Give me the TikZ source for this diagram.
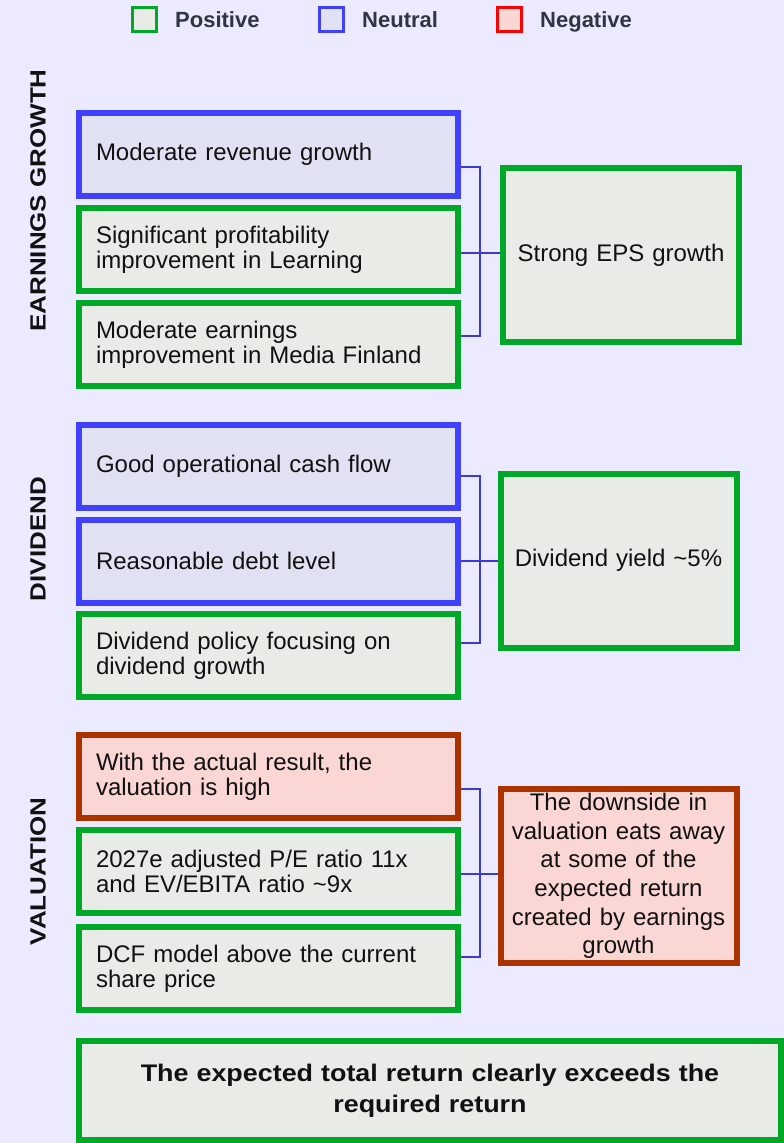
\documentclass[tikz,border=0pt]{standalone}
\usepackage{fontspec}
\setmainfont{Liberation Sans}
\newfontfamily\widebold[FakeStretch=1.18]{Liberation Sans Bold}
\newfontfamily\botbold[FakeStretch=1.12]{Liberation Sans Bold}
\definecolor{bgc}{RGB}{236,234,254}
\definecolor{posline}{RGB}{0,168,40}
\definecolor{posfill}{RGB}{233,236,230}
\definecolor{neuline}{RGB}{64,64,255}
\definecolor{neufill}{RGB}{224,226,244}
\definecolor{negline}{RGB}{170,51,0}
\definecolor{negfill}{RGB}{250,214,212}
\definecolor{legred}{RGB}{255,0,0}
\definecolor{conncol}{RGB}{60,60,210}
\definecolor{legtext}{RGB}{47,54,64}
\definecolor{txt}{RGB}{17,17,17}
\tikzset{
  box/.style={draw, line width=6pt, text=txt, font=\fontsize{24}{25}\selectfont},
  lbox/.style={box, minimum width=379pt, minimum height=83pt, text width=345pt, inner xsep=17pt, align=left},
  rbox/.style={box, minimum width=236pt, minimum height=174pt, text width=222pt, inner xsep=7pt, align=center},
  posbox/.style={draw=posline, fill=posfill},
  neubox/.style={draw=neuline, fill=neufill},
  negbox/.style={draw=negline, fill=negfill},
  legsq/.style={draw, line width=3pt, minimum size=24pt, inner sep=0pt},
  legtx/.style={anchor=base west, text=legtext, font=\fontsize{22}{24}\bfseries\selectfont, inner sep=0pt},
  side/.style={rotate=90, text=txt, font=\fontsize{22}{24}\widebold\selectfont, inner sep=0pt},
  conn/.style={draw=conncol, line width=2pt}
}
\begin{document}
\begin{tikzpicture}[x=1pt, y=-1pt]
\useasboundingbox (0,0) rectangle (784,1143);
\fill[bgc] (0,0) rectangle (784,1143);

% legend
\node[legsq, draw=posline, fill=posfill] (lp) at (144.5,19.5) {};
\node[legtx] (lpt) at (175,27.5) {Positive};
\node[legsq, draw=neuline, fill=neufill] (ln) at (331.5,19.5) {};
\node[legtx] (lnt) at (362,27.5) {Neutral};
\node[legsq, draw=legred, fill=negfill] (lg) at (509.5,19.5) {};
\node[legtx] (lgt) at (540,27.5) {Negative};

% side labels
\node[side] (s1) at (38,200.5) {EARNINGS GROWTH};
\node[side] (s2) at (38,539) {DIVIDEND};
\node[side] (s3) at (38,871.5) {VALUATION};

% group 1
\node[lbox, neubox] (b11) at (268.5,154.5) {Moderate revenue growth};
\node[lbox, posbox] (b12) at (268.5,249.5) {Significant profitability\\improvement in Learning};
\node[lbox, posbox] (b13) at (268.5,344.5) {Moderate earnings\\improvement in Media Finland};
\node[rbox, posbox] (r1) at (621,255) {Strong EPS growth};
\coordinate (j1) at (480,253);
\draw[conn] (b11.east |- 0,167) -| (j1) |- (b13.east |- 0,336);
\draw[conn] (b12.east |- j1) -- (r1.west |- j1);

% group 2
\node[lbox, neubox] (b21) at (268.5,466.5) {Good operational cash flow};
\node[lbox, neubox] (b22) at (268.5,561) {Reasonable debt level};
\node[lbox, posbox] (b23) at (268.5,655.5) {Dividend policy focusing on\\dividend growth};
\node[rbox, posbox] (r2) at (618.5,560.5) {Dividend yield \textasciitilde5\%};
\coordinate (j2) at (480,561);
\draw[conn] (b21.east |- 0,476) -| (j2) |- (b23.east |- 0,643);
\draw[conn] (b22.east |- j2) -- (r2.west |- j2);

% group 3
\node[lbox, negbox] (b31) at (268.5,776.5) {With the actual result, the\\valuation is high};
\node[lbox, posbox] (b32) at (268.5,871.5) {2027e adjusted P/E ratio 11x\\and EV/EBITA ratio \textasciitilde9x};
\node[lbox, posbox] (b33) at (268.5,968.5) {DCF model above the current\\share price};
\node[rbox, negbox, font=\fontsize{24}{28.6}\selectfont] (r3) at (618.5,876) {The downside in\\valuation eats away\\at some of the\\expected return\\created by earnings\\growth};
\coordinate (j3) at (480,874);
\draw[conn] (b31.east |- 0,789) -| (j3) |- (b33.east |- 0,957);
\draw[conn] (b32.east |- j3) -- (r3.west |- j3);

% conclusion
\node[draw=posline, fill=posfill, line width=6pt, minimum width=702pt, minimum height=99pt, text width=680pt, align=center, text=txt, font=\fontsize{24}{31}\botbold\selectfont] (c) at (430,1090.5) {The expected total return clearly exceeds the\\required return};
\end{tikzpicture}
\end{document}
